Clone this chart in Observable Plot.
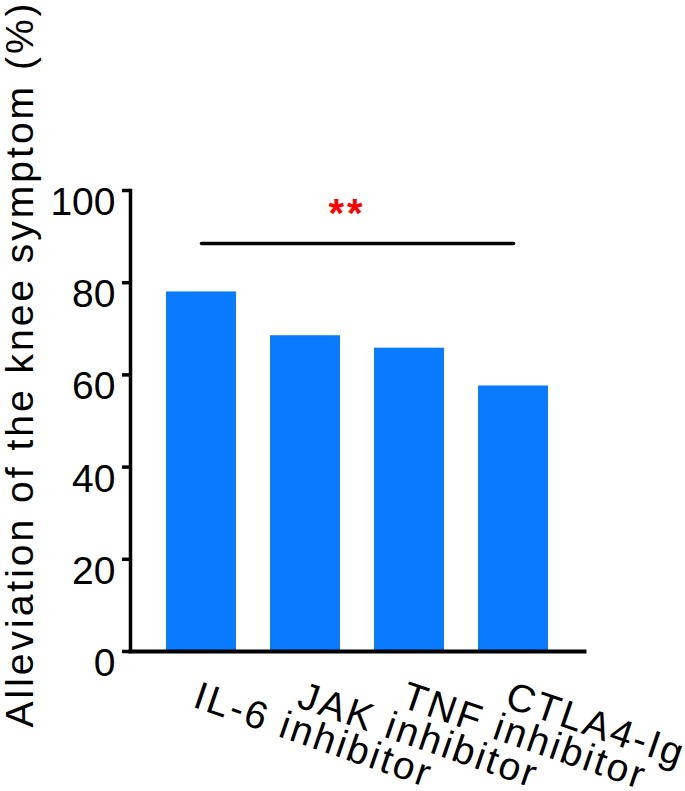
<!DOCTYPE html>
<html><head><meta charset="utf-8">
<script src="https://cdn.jsdelivr.net/npm/d3@7"></script>
<script src="https://cdn.jsdelivr.net/npm/@observablehq/plot@0.6"></script>
<style>
body{margin:0;background:#fff}
svg{display:block}
</style>
</head><body><div id="chart"></div>
<script>
const categories = ["IL-6 inhibitor", "JAK inhibitor", "TNF inhibitor", "CTLA4-Ig"];
const values = [78.0, 68.5, 65.8, 57.6];
const yTicks = [0, 20, 40, 60, 80, 100];
const yLabel = "Alleviation of the knee symptom (%)";
const sigFrom = "IL-6 inhibitor";
const sigTo = "CTLA4-Ig";
const sigY = 88.5;
const sigText = "**";
const sigTextY = 92.0;

const data = categories.map((c, i) => ({category: c, value: values[i]}));
const sigLine = [{x: sigFrom, y: sigY}, {x: sigTo, y: sigY}];

const plot = Plot.plot({
  width: 685, height: 791,
  marginTop: 190, marginBottom: 140, marginLeft: 130, marginRight: 101,
  style: {fontFamily: "'Liberation Sans', Arial, sans-serif", background: "white", overflow: "visible", color: "black"},
  x: {domain: categories, paddingInner: 0.33, paddingOuter: 0.34, axis: null},
  y: {domain: [0, 100]},
  marks: [
    Plot.barY(data, {x: "category", y: "value", fill: "#0a7bff"}),
    Plot.axisY({ticks: yTicks, tickSize: 8, strokeWidth: 3.5, tickFormat: () => "", label: null}),
    Plot.axisY({ticks: yTicks, tickSize: 0, tickPadding: 15, fontSize: 39, dy: 12, label: null}),
    Plot.frame({anchor: "left", strokeWidth: 3.5}),
    Plot.frame({anchor: "bottom", strokeWidth: 4}),
    Plot.text(categories, {x: d => d, frameAnchor: "bottom", rotate: 19, textAnchor: "start", lineAnchor: "bottom", dx: -10, dy: 55, fontSize: 39, fill: "black"}),
    Plot.text([yLabel], {frameAnchor: "left", rotate: -90, textAnchor: "middle", lineAnchor: "bottom", dx: -98, dy: -57, fontSize: 39, fill: "black"}),
    Plot.lineY(sigLine, {x: "x", y: "y", stroke: "black", strokeWidth: 3.5}),
    Plot.text([sigText], {x: () => "JAK inhibitor", y: () => sigTextY, dx: 41.6, textAnchor: "middle", lineAnchor: "bottom", fontSize: 40, fontWeight: "bold", fill: "red"})
  ]
});
d3.select(plot).selectAll("text").each(function() {
  const t = this.textContent;
  if (t === yLabel) this.setAttribute("letter-spacing", "3");
  else if (categories.includes(t)) this.setAttribute("letter-spacing", "2.5");
  else if (t === sigText) this.setAttribute("letter-spacing", "3");
});
document.getElementById("chart").appendChild(plot);
</script>
</body></html>
